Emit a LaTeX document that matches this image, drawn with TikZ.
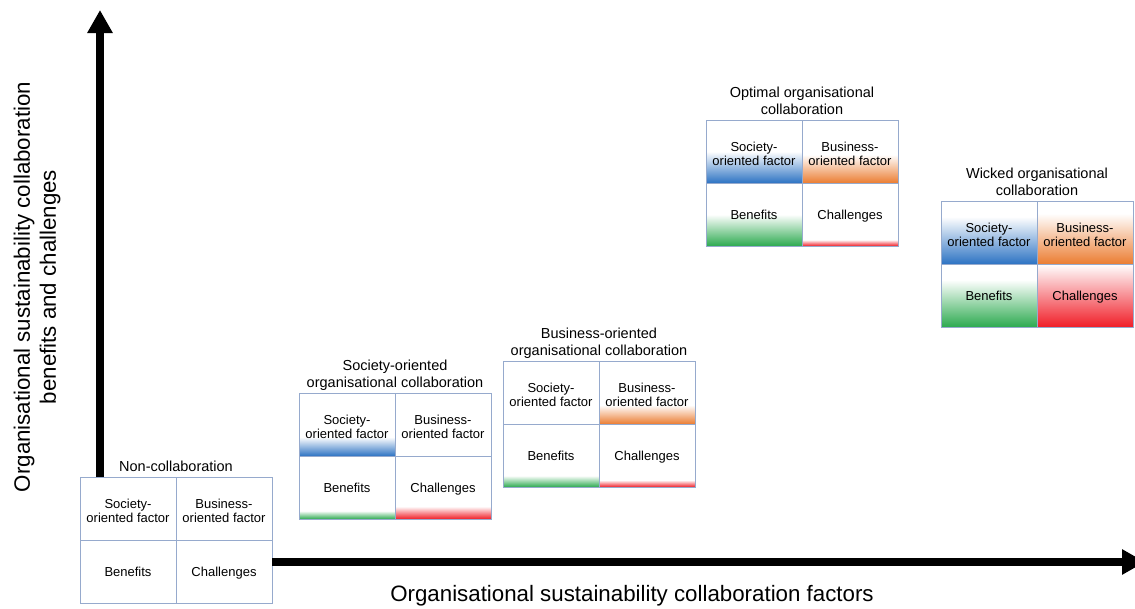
\documentclass[tikz,border=0pt]{standalone}
\usepackage{fontspec}
\setmainfont{Liberation Sans}
\usetikzlibrary{arrows.meta,calc}

\definecolor{frame}{RGB}{150,170,205}
\definecolor{socblue}{RGB}{45,115,195}
\definecolor{busorange}{RGB}{235,125,50}
\definecolor{bengreen}{RGB}{45,170,80}
\definecolor{chred}{RGB}{240,30,40}

\pgfdeclarelayer{bg}
\pgfsetlayers{bg,main}

\tikzset{
  cell/.style={draw=frame, line width=0.8pt, minimum width=96pt, minimum height=63pt,
    inner sep=0pt, outer sep=0pt, align=center, anchor=north west,
    font=\fontsize{13}{14}\selectfont},
  boxtitle/.style={anchor=south, align=center, inner sep=0pt,
    font=\fontsize{14.5}{17}\selectfont, execute at end node={\strut}},
  axislabel/.style={align=center, font=\fontsize{22.3}{26}\selectfont},
  axis/.style={line width=8pt, -{Triangle[width=24pt,length=23pt]}},
}

% strut that sets cell text a little below the middle of its cell
\newcommand\cellstrut{\rule[-4.5pt]{0pt}{19.5pt}}

% a 2x2 grid of factor cells with its top-left corner at (#2,#3)
\newcommand\quadgrid[3]{%
  \node[cell] (#1-s) at (#2,#3) {\cellstrut Society-\\oriented factor};
  \node[cell] (#1-b) at (#1-s.north east) {\cellstrut Business-\\oriented factor};
  \node[cell] (#1-ben) at (#1-s.south west) {\cellstrut Benefits};
  \node[cell] (#1-ch) at (#1-s.south east) {\cellstrut Challenges};
}
% colour wash rising from the bottom of a cell: node, fraction of height, colour
\newcommand\wash[3]{%
  \shade[top color=white, bottom color=#3]
    ($(#1.south west)!#2!(#1.north west)$) rectangle (#1.south east);
}

\begin{document}
\begin{tikzpicture}[x=1pt,y=-1pt]
\useasboundingbox (0,0) rectangle (1135,608);

% the five collaboration types
\quadgrid{nc}{80}{477}
\quadgrid{so}{299}{393}
\quadgrid{bo}{503}{361}
\quadgrid{op}{706}{120}
\quadgrid{wk}{941}{201}

\node[boxtitle] (nc-t) at (nc-s.north east) {Non-collaboration};
\node[boxtitle] (so-t) at (so-s.north east) {Society-oriented\\organisational collaboration};
\node[boxtitle] (bo-t) at (bo-s.north east) {Business-oriented\\organisational collaboration};
\node[boxtitle] (op-t) at (op-s.north east) {Optimal organisational\\collaboration};
\node[boxtitle] (wk-t) at (wk-s.north east) {Wicked organisational\\collaboration};

\begin{pgfonlayer}{bg}
  \wash{so-s}{0.3}{socblue}
  \wash{so-ben}{0.13}{bengreen}
  \wash{so-ch}{0.2}{chred}

  \wash{bo-b}{0.3}{busorange}
  \wash{bo-ben}{0.18}{bengreen}
  \wash{bo-ch}{0.11}{chred}

  \wash{op-s}{0.5}{socblue}
  \wash{op-b}{0.45}{busorange}
  \wash{op-ben}{0.5}{bengreen}
  \wash{op-ch}{0.1}{chred}

  \wash{wk-s}{0.75}{socblue}
  \wash{wk-b}{0.8}{busorange}
  \wash{wk-ben}{0.75}{bengreen}
  \wash{wk-ch}{1}{chred}
\end{pgfonlayer}

% axes
\coordinate (ytip) at (100,10);
\coordinate (xtip) at (1145,562);
\draw[axis] (ytip |- nc-s.north) -- (ytip);
\draw[axis] (nc-ch.east |- xtip) -- (xtip);

\node[axislabel] (xlab) at (632,596) {Organisational sustainability collaboration factors};
\node[axislabel, rotate=90] (ylab) at (37,287) {Organisational sustainability collaboration\\benefits and challenges};
\end{tikzpicture}
\end{document}
